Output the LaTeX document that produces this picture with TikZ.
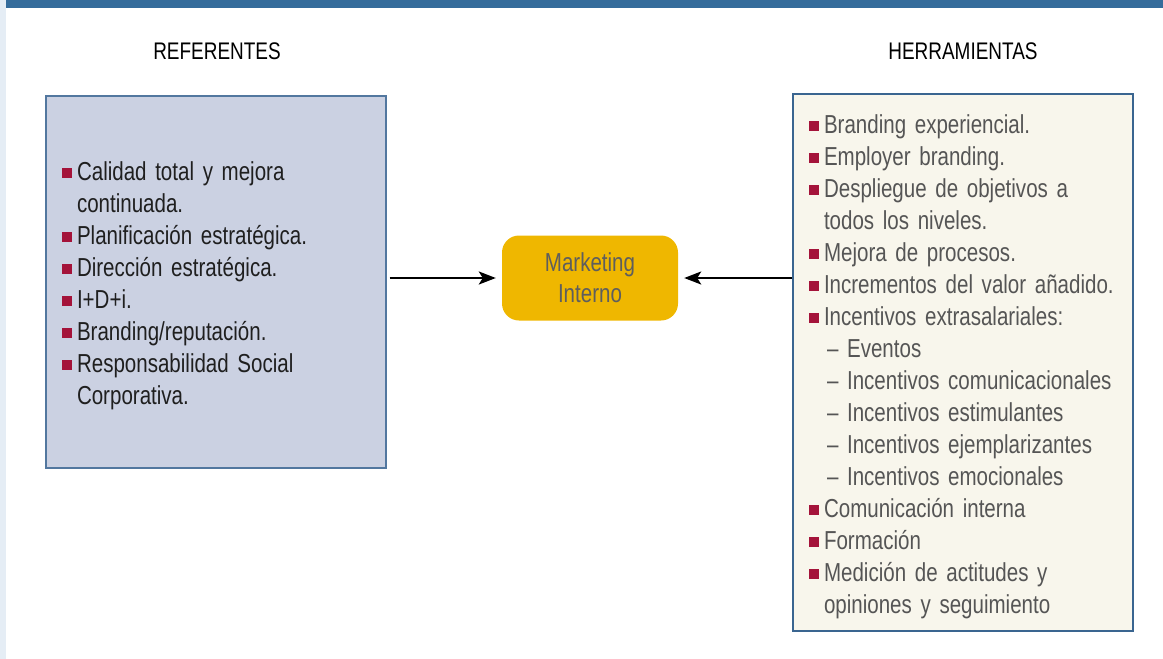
\documentclass[tikz,border=0pt]{standalone}
\usepackage{fontspec}
\setmainfont{Liberation Sans}[FakeStretch=0.79]
\usepackage{xcolor}
\usetikzlibrary{arrows.meta,positioning}
\definecolor{BandBlue}{HTML}{356C9B}
\definecolor{MarginTint}{HTML}{E5EDF5}
\definecolor{SourceFill}{HTML}{CBD1E2}
\definecolor{ToolFill}{HTML}{F8F6EC}
\definecolor{FrameBlue}{HTML}{52779F}
\definecolor{ToolFrame}{HTML}{3A6590}
\definecolor{CoreGold}{HTML}{EFB700}
\definecolor{BulletRed}{HTML}{A4133A}
\definecolor{ToolInk}{HTML}{555555}
\definecolor{CoreInk}{HTML}{5E5E5E}
\newcommand{\Bullet}{\textcolor{BulletRed}{\rule[2.5pt]{10pt}{10pt}}\hspace{5pt}}
\newcommand{\Hang}{\hphantom{\Bullet}}
\newcommand{\SubItem}{\Hang\hspace*{3pt}--\ }
% pushes a list a little lower in its box
\newcommand{\TopStrut}{\rule{0pt}{27pt}}
% condensed face: tighter word spaces
\newcommand{\ListFont}{\fontsize{26}{32}\selectfont\spaceskip=3.6pt plus 1pt minus 1pt\relax}
\tikzset{
  figure/.style={x=1pt,y=-1pt,font=\ListFont,
    >={Stealth[length=17pt,width=13pt,inset=4pt]}},
  heading/.style={font=\fontsize{24}{28}\selectfont},
  listbox/.style={draw,line width=1.2pt,minimum width=340pt,align=left,
    text width=308pt,inner xsep=16pt},
  flow/.style={->,line width=2.3pt,draw=black},
}
\begin{document}
\begin{tikzpicture}[figure]
  \useasboundingbox (0,0) rectangle (1163,659);
  \fill[MarginTint] (0,0) rectangle (6,659);
  \fill[BandBlue] (6,0) rectangle (1163,8);

  \node[heading] (RefTitle) at (217,51) {REFERENTES};
  \node[heading] (ToolTitle) at (963,51) {HERRAMIENTAS};

  \node[listbox,draw=FrameBlue,fill=SourceFill,minimum height=372pt,text=black!88]
    (Referentes) at (216,282) {%
    \TopStrut\Bullet Calidad total y mejora\\
    \Hang continuada.\\
    \Bullet Planificación estratégica.\\
    \Bullet Dirección estratégica.\\
    \Bullet I+D+i.\\
    \Bullet Branding/reputación.\\
    \Bullet Responsabilidad Social\\
    \Hang Corporativa.};

  \node[listbox,draw=ToolFrame,fill=ToolFill,minimum height=537pt,text=ToolInk]
    (Herramientas) at (963,362.5) {%
    \TopStrut\Bullet Branding experiencial.\\
    \Bullet Employer branding.\\
    \Bullet Despliegue de objetivos a\\
    \Hang todos los niveles.\\
    \Bullet Mejora de procesos.\\
    \Bullet Incrementos del valor añadido.\\
    \Bullet Incentivos extrasalariales:\\
    \SubItem Eventos\\
    \SubItem Incentivos comunicacionales\\
    \SubItem Incentivos estimulantes\\
    \SubItem Incentivos ejemplarizantes\\
    \SubItem Incentivos emocionales\\
    \Bullet Comunicación interna\\
    \Bullet Formación\\
    \Bullet Medición de actitudes y\\
    \Hang opiniones y seguimiento};

  \node[fill=CoreGold,rounded corners=17pt,minimum width=176pt,minimum height=85pt,
        align=center,text=CoreInk,font=\fontsize{26}{31}\selectfont]
    (Marketing) at (590,278) {Marketing\\Interno};

  \draw[flow,shorten <=3pt,shorten >=6pt] (Referentes.east |- Marketing.west) -- (Marketing.west);
  \draw[flow,shorten >=6pt] (Herramientas.west |- Marketing.east) -- (Marketing.east);
\end{tikzpicture}
\end{document}
